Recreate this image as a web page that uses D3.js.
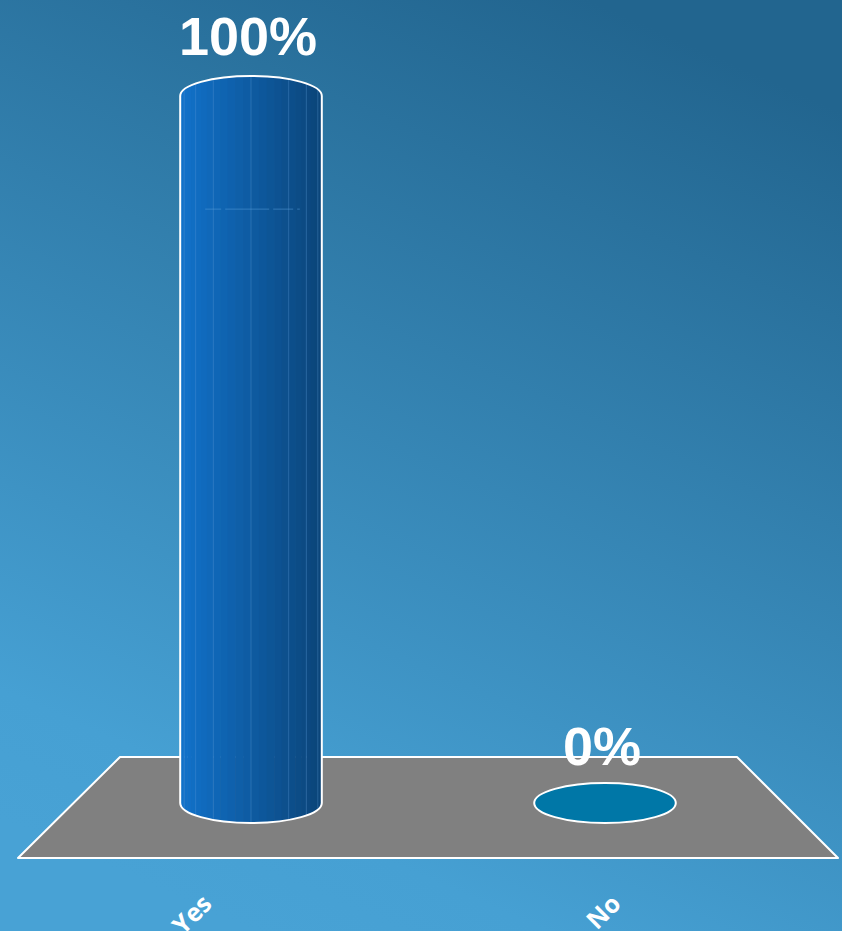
<!DOCTYPE html>
<html>
<head>
<meta charset="utf-8">
<script src="https://cdn.jsdelivr.net/npm/d3@7"></script>
<style>
  body { margin: 0; }
  svg { display: block; }
</style>
</head>
<body>
<svg></svg>
<script>
// chart data
const categories = ["Yes", "No"];
const values = [100, 0];
const valueLabels = ["100%", "0%"];

const width = 842, height = 931;
const svg = d3.select("svg").attr("width", width).attr("height", height);

const defs = svg.append("defs");
const bg = defs.append("linearGradient").attr("id", "bg")
    .attr("x1", "30%").attr("y1", "100%").attr("x2", "70%").attr("y2", "0%");
bg.append("stop").attr("offset", "0%").attr("stop-color", "#48a2d5");
bg.append("stop").attr("offset", "12%").attr("stop-color", "#46a0d3");
bg.append("stop").attr("offset", "100%").attr("stop-color", "#22658f");

svg.append("rect").attr("width", width).attr("height", height).attr("fill", "url(#bg)");

// scales
const x = d3.scaleBand().domain(categories).range([74, 782])
    .paddingInner(0.6).paddingOuter(0.3);
const y = d3.scaleLinear().domain([0, 100]).range([803, 96]);
const ry = 20;

// floor
const floor = [[120, 757], [737, 757], [838, 858], [18, 858]];
svg.append("path")
    .attr("d", d3.line()(floor) + "Z")
    .attr("fill", "#808080")
    .attr("stroke", "#ffffff")
    .attr("stroke-width", 2)
    .attr("stroke-linejoin", "round");

const shade = d3.scaleLinear().domain([0, 1]).range(["#1172cb", "#0b4478"]);
const labelShift = [-50, 5];

categories.forEach((c, i) => {
    const x0 = x(c), bw = x.bandwidth();
    const cx = x0 + bw / 2, rx = bw / 2;
    const yb = y(0), yt = y(values[i]);

    if (values[i] === 0) {
        svg.append("ellipse")
            .attr("cx", cx).attr("cy", yb).attr("rx", rx).attr("ry", ry)
            .attr("fill", "#0077a7")
            .attr("stroke", "#ffffff").attr("stroke-width", 2);
    } else {
        const outline = `M${x0},${yt} A${rx},${ry} 0 0 1 ${x0 + bw},${yt} L${x0 + bw},${yb} A${rx},${ry} 0 0 1 ${x0},${yb} Z`;
        const clipId = "clip" + i;
        defs.append("clipPath").attr("id", clipId).append("path").attr("d", outline);
        const g = svg.append("g").attr("clip-path", `url(#${clipId})`);
        // faceted body
        const n = 28;
        const edges = d3.range(n + 1).map(k => cx - rx * Math.cos(Math.PI * k / n));
        g.selectAll("rect.facet")
            .data(d3.range(n))
            .join("rect")
            .attr("class", "facet")
            .attr("x", k => edges[k])
            .attr("y", yt - ry - 2)
            .attr("width", k => edges[k + 1] - edges[k] + 0.5)
            .attr("height", yb - yt + 2 * ry + 4)
            .attr("fill", k => shade(((edges[k] + edges[k + 1]) / 2 - x0) / bw));
        g.selectAll("line.edge")
            .data([3, 6, 9, 14, 19, 22, 25])
            .join("line")
            .attr("class", "edge")
            .attr("x1", k => edges[k]).attr("x2", k => edges[k])
            .attr("y1", yt - ry).attr("y2", yb + ry)
            .attr("stroke", "#5c9bd6").attr("stroke-opacity", 0.35).attr("stroke-width", 1);
        // faint inner guide line
        g.append("line")
            .attr("x1", x0 + 25).attr("x2", x0 + bw - 22)
            .attr("y1", y(84)).attr("y2", y(84))
            .attr("stroke", "#5aa0de").attr("stroke-opacity", 0.5).attr("stroke-dasharray", "16,4,44,4,20,4,8");
        svg.append("path").attr("d", outline)
            .attr("fill", "none").attr("stroke", "#ffffff").attr("stroke-width", 2);
    }

    svg.append("text")
        .attr("x", cx - 3)
        .attr("y", values[i] === 0 ? yb - 38 : yt - ry - 21)
        .attr("text-anchor", "middle")
        .attr("font-family", "Liberation Sans, Arial, sans-serif")
        .attr("font-weight", "bold")
        .attr("font-size", 54)
        .attr("fill", "#ffffff")
        .text(valueLabels[i]);

    svg.append("text")
        .attr("transform", `translate(${cx + labelShift[i]},${893}) rotate(-45)`)
        .attr("text-anchor", "end")
        .attr("dy", "0.7em")
        .attr("font-family", "Open Sans, Liberation Sans, sans-serif")
        .attr("font-weight", "bold")
        .attr("font-size", 25)
        .attr("fill", "#ffffff")
        .text(c);
});
</script>
</body>
</html>
